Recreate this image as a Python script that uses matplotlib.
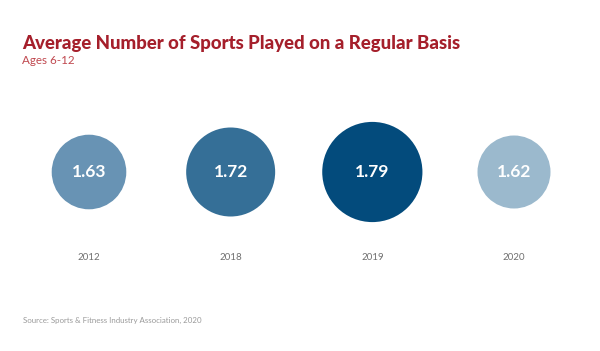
import matplotlib
matplotlib.use("Agg")
import matplotlib.pyplot as plt

# Data
years = ["2012", "2018", "2019", "2020"]
avg_sports = [1.63, 1.72, 1.79, 1.62]
colors = ["#6893b4", "#356f97", "#034b7c", "#9bb9cd"]

plt.rcParams['font.family'] = ['Lato', 'DejaVu Sans']

W, H, DPI = 600, 351, 100
fig = plt.figure(figsize=(W / DPI, H / DPI), dpi=DPI)

# axes spans the circle centres horizontally, centred on circle row vertically
left_px, right_px = 89, 514
top_px, bottom_px = 92, 252
ax = fig.add_axes([left_px / W, 1 - bottom_px / H,
                   (right_px - left_px) / W, (bottom_px - top_px) / H])
ax.set_xlim(0, len(years) - 1)
ax.set_ylim(-1, 1)

# circle radius grows with the value (pixels -> points)
radii_px = [36.5 + (v - min(avg_sports)) * 80 for v in avg_sports]
sizes = [(2 * r * 72 / DPI) ** 2 for r in radii_px]
xs = list(range(len(years)))
ax.scatter(xs, [0] * len(xs), s=sizes, c=colors, linewidths=0, clip_on=False, zorder=2)

for x, v in zip(xs, avg_sports):
    ax.text(x, 0, f"{v:.2f}", ha='center', va='center', color='white',
            fontsize=12.5, fontweight='bold', zorder=3)

ax.set_xticks(xs)
ax.set_xticklabels(years, fontsize=7, color='#707070')
ax.tick_params(axis='x', length=0, pad=1)
ax.set_yticks([])
for s in ax.spines.values():
    s.set_visible(False)
ax.patch.set_alpha(0)

# Titles and source
fig.text(22 / W, 1 - 44 / H, "Average Number of Sports Played on a Regular Basis",
         fontsize=13.4, fontweight='black', color='#a51f2b', va='center', ha='left')
fig.text(22 / W, 1 - 60 / H, "Ages 6-12", fontsize=8.4, color='#c0484f',
         va='center', ha='left')
fig.text(23 / W, 1 - 320 / H, "Source: Sports & Fitness Industry Association, 2020",
         fontsize=5.7, color='#9a9a9a', va='center', ha='left')

fig.savefig("out.png", dpi=DPI)
